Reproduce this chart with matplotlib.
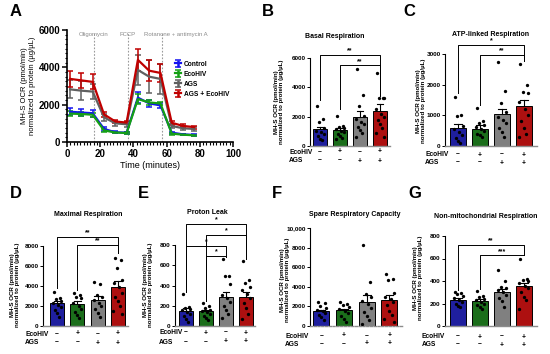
import matplotlib

matplotlib.use("Agg")
import matplotlib.pyplot as plt
from matplotlib.transforms import blended_transform_factory
from matplotlib.ticker import MultipleLocator

plt.rcParams["font.family"] = ["Liberation Sans", "DejaVu Sans"]
plt.rcParams["font.weight"] = "bold"

W, H = 550, 354

# ---- panel A: time course ----
time_min = [1.9, 8.7, 15.5, 22.3, 29.1, 35.9, 42.7, 49.5, 56.3, 63.1, 69.9, 76.7]
ctrl = [1620, 1580, 1540, 700, 520, 500, 2375, 2070, 1960, 500, 410, 375]
ctrl_sem = [200, 180, 180, 90, 60, 60, 300, 180, 150, 60, 40, 40]
eco = [1520, 1500, 1460, 620, 510, 480, 2300, 2120, 2060, 450, 390, 360]
eco_sem = [120, 120, 120, 60, 50, 50, 250, 120, 100, 50, 40, 40]
ags = [2820, 2750, 2700, 1320, 1000, 950, 3860, 3500, 3380, 860, 735, 700]
ags_sem = [480, 500, 420, 200, 130, 120, 800, 900, 800, 130, 110, 100]
ags_eco = [3380, 3300, 3220, 1480, 1100, 1040, 4400, 3820, 3700, 1030, 860, 800]
ags_eco_sem = [450, 420, 400, 150, 100, 100, 600, 550, 500, 100, 80, 80]
injections = [16, 36.5, 57]
injection_labels = ["Oligomycin", "FCCP", "Rotanone + antimycin A"]
series_names = ["Control", "EcoHIV", "AGS", "AGS + EcoHIV"]

# ---- bar panels ----
ecohiv_signs = ["\u2212", "+", "\u2212", "+"]
ags_signs = ["\u2212", "\u2212", "+", "+"]

basal_mean = [1140, 1120, 2000, 2420]
basal_sem = [180, 130, 390, 450]
basal_pts = [
    [2730, 1820, 1660, 1200, 1050, 950, 800, 650, 500, 400],
    [2070, 1360, 1300, 1250, 1150, 1050, 950, 800, 700, 550, 450],
    [5230, 3480, 2730, 2050, 1850, 1650, 1500, 1300, 1100, 900, 600],
    [4950, 3300, 3250, 3250, 2500, 2200, 2000, 1800, 1500, 1200, 900, 600],
]
atp_mean = [577, 560, 1030, 1290]
atp_sem = [140, 110, 190, 200]
atp_pts = [
    [1590, 1010, 980, 650, 550, 450, 350, 250, 150, 100],
    [1230, 815, 760, 700, 620, 550, 480, 400, 350, 300],
    [2750, 1800, 1410, 1100, 950, 850, 750, 600, 450, 300],
    [2670, 1990, 1750, 1720, 1450, 1200, 1000, 800, 600, 400, 300],
]
max_mean = [2300, 2250, 2600, 3950]
max_sem = [250, 260, 380, 520]
max_pts = [
    [3400, 2800, 2700, 2500, 2300, 2100, 1900, 1600, 1300, 900],
    [3300, 3100, 2900, 2800, 2300, 2000, 1700, 1400, 1100, 800],
    [4400, 4200, 3100, 2900, 2600, 2300, 2000, 1700, 1300, 900],
    [6800, 6600, 5800, 4600, 4300, 3900, 3300, 2900, 2500, 2000, 1500, 1200],
]
leak_mean = [150, 145, 290, 290]
leak_sem = [25, 15, 50, 50]
leak_pts = [
    [315, 190, 180, 170, 155, 140, 120, 100, 70, 40],
    [230, 200, 175, 160, 150, 135, 120, 100, 80, 60],
    [660, 490, 490, 410, 310, 280, 240, 200, 160, 120, 80],
    [640, 450, 420, 390, 360, 320, 280, 230, 180, 120, 70],
]
spare_mean = [1500, 1600, 2500, 2700]
spare_sem = [150, 180, 650, 450]
spare_pts = [
    [2400, 2350, 2000, 1800, 1650, 1500, 1300, 1100, 900, 600],
    [2500, 2200, 2100, 1900, 1700, 1500, 1300, 1000, 700, 400],
    [8300, 4500, 3300, 3000, 2600, 2200, 1800, 1400, 1000, 600, 200],
    [5300, 4800, 4700, 3400, 3000, 2800, 2500, 2100, 1500, 1100, 700, 400],
]
nonmito_mean = [235, 225, 300, 355]
nonmito_sem = [15, 15, 25, 30]
nonmito_pts = [
    [300, 295, 285, 270, 250, 230, 210, 195, 180, 165],
    [310, 270, 255, 240, 230, 215, 200, 185, 170, 150],
    [500, 400, 350, 340, 320, 300, 280, 250, 220, 170],
    [600, 420, 410, 400, 380, 360, 340, 300, 260, 230, 150],
]

# brackets: (bar i, bar j, height, leg bottom i, leg bottom j, stars)
basal_sig = [(0, 3, 6200, 3150, 3400, "**"), (1, 3, 5500, 2500, 3400, "**")]
atp_sig = [(0, 3, 3290, 1720, 2780, "*"), (1, 3, 2970, 1340, 2780, "**")]
max_sig = [(0, 3, 8900, 3800, 7300, "**"), (1, 3, 8100, 3600, 7300, "**")]
leak_sig = [
    (0, 3, 1010, 340, 660, "*"),
    (1, 3, 900, 245, 660, "*"),
    (0, 2, 790, 340, 680, "*"),
    (1, 2, 690, 245, 680, "*"),
]
nonmito_sig = [(0, 3, 723, 320, 630, "**"), (1, 3, 628, 330, 628, "***")]

LINE_COLORS = ["#1414f0", "#14a014", "#606060", "#c00000"]
BAR_COLORS = ["#1f1f9e", "#1b6e1b", "#808080", "#ad1010"]
JITTER = [-0.16, 0.14, -0.05, 0.2, -0.2, 0.06, 0.18, -0.12, 0.0, 0.1, -0.22, 0.22]
YLAB = "MH-S OCR (pmol/min)\nnormalized to protein (\u00b5g/\u00b5L)"

fig = plt.figure(figsize=(5.5, 3.54), dpi=100)


def _rect(x0, top, x1, bottom):
    return [x0 / W, 1 - bottom / H, (x1 - x0) / W, (bottom - top) / H]


def _ftext(x, y, s, **kw):
    fig.text(x / W, 1 - y / H, s, **kw)


# ---------------- A ----------------
ax = fig.add_axes(_rect(67, 30, 233, 142))
for vals, sem, color, name in zip(
    (ctrl, eco, ags, ags_eco),
    (ctrl_sem, eco_sem, ags_sem, ags_eco_sem),
    LINE_COLORS,
    series_names,
):
    ax.errorbar(time_min, vals, yerr=sem, color=color, lw=1.6, capsize=2.2,
                elinewidth=1.1, capthick=1.1, label=name)
for x in injections:
    ax.axvline(x, ymax=0.98, color="#9a9a9a", ls=(0, (1.5, 1.5)), lw=0.8, zorder=0)
ax.text(injections[0], 5780, injection_labels[0], ha="center", va="center",
        fontsize=4.3, color="#8a8a8a", fontweight="normal")
ax.text(injections[1], 5780, injection_labels[1], ha="center", va="center",
        fontsize=4.3, color="#8a8a8a", fontweight="normal")
ax.text(46.5, 5780, injection_labels[2], ha="left", va="center",
        fontsize=4.3, color="#8a8a8a", fontweight="normal")
ax.set_xlim(0, 100)
ax.set_ylim(0, 6000)
ax.set_xticks(range(0, 101, 20))
ax.set_yticks(range(0, 6001, 2000))
ax.xaxis.set_minor_locator(MultipleLocator(2))
ax.yaxis.set_minor_locator(MultipleLocator(250))
for s in ("top", "right"):
    ax.spines[s].set_visible(False)
for s in ("left", "bottom"):
    ax.spines[s].set_linewidth(1.2)
ax.tick_params(which="major", length=3.5, width=1.1, labelsize=7, pad=1.5)
ax.tick_params(which="minor", length=1.8, width=0.8)
ax.set_xlabel("Time (minutes)", fontsize=6.5, labelpad=1.5)
ax.set_ylabel(YLAB, fontsize=5.5, labelpad=2, linespacing=1.1)
leg = ax.legend(loc="upper left", bbox_to_anchor=(172 / W, 1 - 58 / H),
                bbox_transform=fig.transFigure, frameon=False, fontsize=4.8,
                handlelength=1.0, handletextpad=0.35, labelspacing=0.45,
                borderaxespad=0)
for h in leg.legend_handles:
    h.set_linewidth(1.8)


# ---------------- bar panels ----------------
def bar_panel(rect, means, sems, pts, ymax, ystep, xlim, sig, title, title_xy,
              ylab_xy, rows_y, rows_x, tick_fmt=None, dotted_base=False):
    ax = fig.add_axes(rect)
    xs = range(len(means))
    ax.bar(xs, means, width=0.7, color=BAR_COLORS, edgecolor="black",
           linewidth=0.7, zorder=2)
    for i, (m, e) in enumerate(zip(means, sems)):
        ax.plot([i, i], [m, m + e], color="black", lw=0.8, zorder=3, clip_on=False)
        ax.plot([i - 0.17, i + 0.17], [m + e, m + e], color="black", lw=0.8,
                zorder=3, clip_on=False)
    for i, group in enumerate(pts):
        for k, v in enumerate(group):
            ax.plot(i + JITTER[k % len(JITTER)], v, "o", color="black", ms=2.4,
                    mew=0, zorder=4, clip_on=False)
    for i, j, y, bi, bj, star in sig:
        ax.plot([i, i, j, j], [bi, y, y, bj], color="black", lw=0.7,
                clip_on=False, zorder=3)
        ax.text((i + j) / 2, y + ymax * 0.005, star, ha="center", va="bottom",
                fontsize=5, clip_on=False)
    ax.set_xlim(*xlim)
    ax.set_ylim(0, ymax)
    ticks = list(range(0, ymax + 1, ystep))
    ax.set_yticks(ticks)
    if tick_fmt:
        ax.set_yticklabels(tick_fmt)
    ax.set_xticks([])
    for s in ("top", "right"):
        ax.spines[s].set_visible(False)
    ax.spines["left"].set_linewidth(0.8)
    ax.spines["bottom"].set_linewidth(1.0)
    ax.spines["bottom"].set_color("#8c8c8c")
    if dotted_base:
        ax.spines["bottom"].set_linestyle((0, (1.5, 1.2)))
    ax.tick_params(axis="y", length=2.2, width=0.7, labelsize=4.6, pad=1)
    _ftext(*title_xy, title, ha="center", va="center", fontsize=5)
    _ftext(*ylab_xy, YLAB, ha="center", va="center", rotation=90, fontsize=4.4,
           linespacing=1.15)
    tr = blended_transform_factory(ax.transData, fig.transFigure)
    for label, signs, y in zip(("EcoHIV", "AGS"), (ecohiv_signs, ags_signs), rows_y):
        _ftext(rows_x, y, label, ha="left", va="center", fontsize=4.8)
        for i, s in enumerate(signs):
            ax.text(i, 1 - y / H, s, transform=tr, ha="center", va="center",
                    fontsize=4.8)
    return ax


bar_panel(_rect(310, 58, 390, 146), basal_mean, basal_sem, basal_pts, 6000, 2000,
          (-0.5, 3.5), basal_sig, "Basal Respiration", (335, 36), (279, 102),
          (152, 161), 289)
bar_panel(_rect(445, 54, 537, 146), atp_mean, atp_sem, atp_pts, 3000, 1000,
          (-0.6, 3.6), atp_sig, "ATP-linked Respiration", (491, 35), (421, 101),
          (155, 163), 425)
bar_panel(_rect(43, 246, 128, 326), max_mean, max_sem, max_pts, 8000, 2000,
          (-0.7, 3.5), max_sig, "Maximal Respiration", (88, 215), (15, 285),
          (334, 343), 25)
bar_panel(_rect(175, 245, 255, 326), leak_mean, leak_sem, leak_pts, 800, 200,
          (-0.55, 3.45), leak_sig, "Proton Leak", (207, 212), (148, 285),
          (333, 342), 159)
bar_panel(_rect(310, 228, 403, 326), spare_mean, spare_sem, spare_pts, 10000, 2000,
          (-0.5, 3.6), [], "Spare Respiratory Capacity", (355, 214), (285, 280),
          (336, 344), 285,
          tick_fmt=["0", "2000", "4000", "6000", "8000", "10,000"], dotted_base=True)
bar_panel(_rect(445, 236, 537, 326), nonmito_mean, nonmito_sem, nonmito_pts, 800, 200,
          (-0.6, 3.6), nonmito_sig, "Non-mitochondrial Respiration", (486, 217),
          (418, 278), (337, 345), 422)

for letter, x, y in (("A", 10, 12), ("B", 262, 12), ("C", 403, 12), ("D", 10, 193),
                     ("E", 138, 193), ("F", 272, 193), ("G", 408, 193)):
    _ftext(x, y, letter, ha="left", va="center", fontsize=12)

fig.savefig("out.png", dpi=100)
